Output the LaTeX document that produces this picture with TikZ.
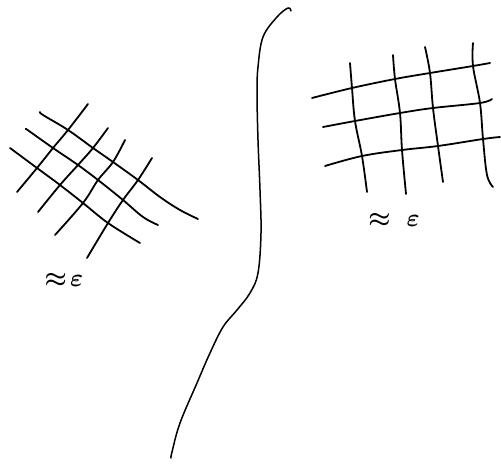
\documentclass[tikz,border=0pt]{standalone}
\usepackage{amsmath}
\tikzset{
  ink/.style={line width=1.8pt, line cap=round, line join=round},
  thin ink/.style={line width=1.5pt, line cap=round, line join=round},
  lbl/.style={inner sep=0pt, font=\fontsize{29}{29}\selectfont\boldmath}
}
\begin{document}
\begin{tikzpicture}[x=1pt,y=-1pt]
\useasboundingbox (0,0) rectangle (501,468);
% boundary curve
\draw[thin ink] plot[smooth, tension=0.6] coordinates {(291,11) (288,8) (277,17) (263,37) (258,67) (257,93) (258,140) (260,190) (261,233) (258,273) (250,293) (237,310) (223,327) (210,353) (197,383) (180,423) (172,452) (171,458)};
% left grid, lines running down-right
\draw[ink] plot[smooth, tension=0.6] coordinates {(40,112) (43,115) (68,130) (93,148) (113,162) (138,180) (160,197) (180,210) (198,219)};
\draw[ink] plot[smooth, tension=0.6] coordinates {(26,129) (29,131) (53,148) (78,165) (98,180) (123,200) (143,217) (158,225)};
\draw[ink] plot[smooth, tension=0.6] coordinates {(10,148) (37,168) (60,185) (83,203) (108,223) (140,243)};
% left grid, lines running up-right
\draw[ink] plot[smooth, tension=0.6] coordinates {(17,192) (37,168) (53,148) (68,130) (88,104)};
\draw[ink] plot[smooth, tension=0.6] coordinates {(38,212) (60,185) (78,165) (93,148) (108,128)};
\draw[ink] plot[smooth, tension=0.6] coordinates {(55,235) (83,203) (98,180) (113,162) (125,140)};
\draw[ink] plot[smooth, tension=0.6] coordinates {(87,258) (108,223) (123,200) (138,180) (152,158)};
\node[lbl] (leftlabel) at (64,280) {$\approx\!\varepsilon$};
% right grid, horizontal lines
\draw[ink] plot[smooth, tension=0.6] coordinates {(312,98) (352,88) (395,79) (430,73) (473,66) (490,63)};
\draw[ink] plot[smooth, tension=0.6] coordinates {(323,127) (355,121) (400,113) (433,108) (480,103) (492,99)};
\draw[ink] plot[smooth, tension=0.6] coordinates {(325,166) (362,156) (402,150) (438,146) (483,139) (500,137)};
% right grid, vertical lines
\draw[ink] plot[smooth, tension=0.6] coordinates {(350,63) (352,88) (355,121) (362,156) (367,192)};
\draw[ink] plot[smooth, tension=0.6] coordinates {(393,55) (395,79) (400,113) (402,150) (406,194)};
\draw[ink] plot[smooth, tension=0.6] coordinates {(425,47) (430,73) (433,108) (438,146) (443,182)};
\draw[ink] plot[smooth, tension=0.6] coordinates {(473,43) (473,66) (480,103) (483,139) (487,175) (493,187)};
\node[lbl] (rightlabel) at (394,220) {$\approx\;\varepsilon$};
\end{tikzpicture}
\end{document}
